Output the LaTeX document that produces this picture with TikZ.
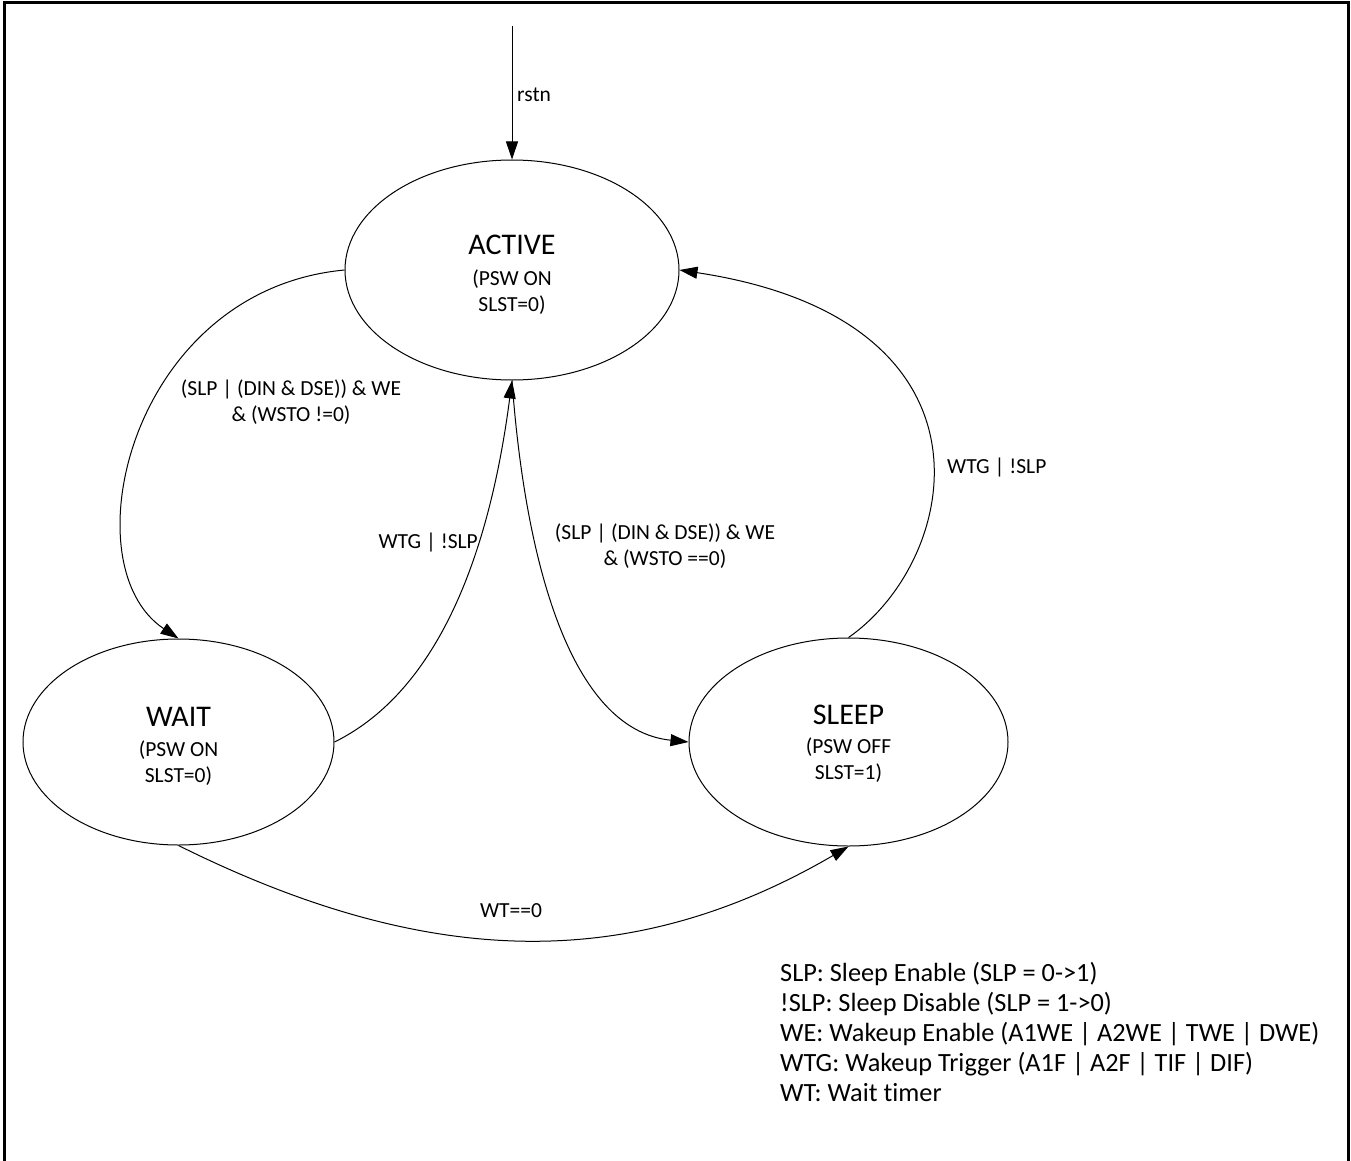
\documentclass[tikz,border=0pt]{standalone}
\usepackage{fontspec}
\setmainfont{Carlito}[Ligatures=NoCommon]
\usetikzlibrary{shapes.geometric,arrows.meta}
\begin{document}
\begin{tikzpicture}[x=1pt,y=-1pt,
  stateshape/.style={draw=black,line width=1pt,ellipse,inner sep=0pt},
  bigtxt/.style={font=\fontsize{30}{32}\selectfont,inner sep=0pt},
  smalltxt/.style={font=\fontsize{21.5}{25.5}\selectfont,inner sep=0pt,align=center},
  legtxt/.style={font=\fontsize{26.3}{30}\selectfont,inner sep=0pt,align=left},
  conn/.style={draw=black,line width=1pt,-{Triangle[length=18pt,width=12pt]}}]
\useasboundingbox[fill=white] (0,0) rectangle (1351,1161);
\draw[line width=3pt] (4,1161) -- (4,3) -- (1348,3) -- (1348,1161);

% states
\node[stateshape,minimum width=334pt,minimum height=220pt] (active) at (512,270) {};
\node[stateshape,minimum width=311pt,minimum height=206pt] (wait) at (178.5,742) {};
\node[stateshape,minimum width=319pt,minimum height=208pt] (sleep) at (848.5,742) {};

\node[bigtxt] (activeT) at (512,245) {ACTIVE};
\node[smalltxt] (activeS) at (512,292) {(PSW ON\\SLST=0)};
\node[bigtxt] (waitT) at (178.5,717) {WAIT};
\node[smalltxt] (waitS) at (178.5,763) {(PSW ON\\SLST=0)};
\node[bigtxt] (sleepT) at (848.5,715) {SLEEP};
\node[smalltxt] (sleepS) at (848.5,760) {(PSW OFF\\SLST=1)};

% reset
\coordinate (rst) at (512,26);
\draw[conn] (rst) -- (active.north);
\node[smalltxt,anchor=west] (rstnL) at (517,95) {rstn};

% ACTIVE -> WAIT
\draw[conn] (active.west) .. controls (130,290) and (68,565) .. (wait.north);
\node[smalltxt] (lab1) at (291,402) {(SLP | (DIN \& DSE)) \& WE\\\& (WSTO !=0)};

% WAIT -> ACTIVE
\draw[conn] (wait.east) .. controls (440,690) and (490,550) .. (active.south);
\node[smalltxt,anchor=east] (lab2) at (478,542) {WTG | !SLP};

% ACTIVE -> SLEEP
\draw[conn] (active.south) .. controls (525,560) and (570,730) .. (sleep.west);
\node[smalltxt] (lab3) at (665,546) {(SLP | (DIN \& DSE)) \& WE\\\& (WSTO ==0)};

% SLEEP -> ACTIVE
\draw[conn] (sleep.north) .. controls (960,560) and (1010,320) .. (active.east);
\node[smalltxt,anchor=west] (lab4) at (947,467) {WTG | !SLP};

% WAIT -> SLEEP
\draw[conn] (wait.south) .. controls (431,971) and (633,972) .. (sleep.south);
\node[smalltxt] (lab5) at (511,911) {WT==0};

% legend
\node[legtxt,anchor=north west] (legend) at (780,962) {SLP: Sleep Enable (SLP = 0->1)\\!SLP: Sleep Disable (SLP = 1->0)\\WE: Wakeup Enable (A1WE | A2WE | TWE | DWE)\\WTG: Wakeup Trigger (A1F | A2F | TIF | DIF)\\WT: Wait timer};
\end{tikzpicture}
\end{document}
